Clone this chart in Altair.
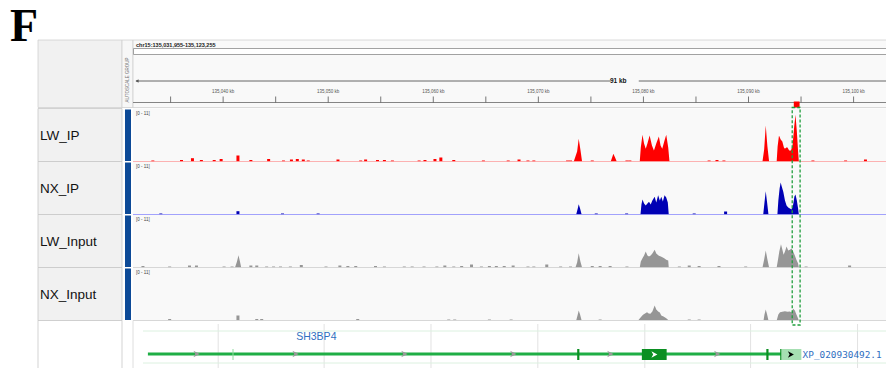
import altair as alt
import pandas as pd

# ---------------- data ----------------
PANEL_LETTER = "F"
REGION = [135031.955, 135123.255]
REGION_TEXT = "chr15:135,031,955-135,123,255"
SPAN_TEXT = "91 kb"
TICK_POS = [135035, 135040, 135045, 135050, 135055, 135060, 135065, 135070, 135075,
            135080, 135085, 135090, 135095, 135100]
LABEL_POS = [135040, 135050, 135060, 135070, 135080, 135090, 135100]
LABEL_TEXT = ["135,040 kb", "135,050 kb", "135,060 kb", "135,070 kb", "135,080 kb",
              "135,090 kb", "135,100 kb"]
AUTOSCALE_TEXT = "AUTOSCALE GROUP"
TRACK_NAMES = ["LW_IP", "NX_IP", "LW_Input", "NX_Input"]
DATA_RANGE = "[0 - 11]"

LW_IP_PEAK_POS = [135073.37, 135073.53, 135073.69, 135073.84, 135074.00, 135074.16,
                  135076.89, 135077.14, 135077.30, 135077.46,
                  135079.65, 135079.75, 135079.91, 135080.06, 135080.22, 135080.38, 135080.59, 135080.81,
                  135081.00, 135081.22, 135081.47, 135081.63, 135081.79, 135081.98, 135082.17, 135082.36, 135082.48,
                  135091.33, 135091.49, 135091.64, 135091.80, 135091.96,
                  135092.68, 135092.77, 135092.90, 135093.06, 135093.22, 135093.37, 135093.47, 135093.59,
                  135093.71, 135093.87, 135094.04, 135094.19, 135094.35, 135094.47, 135094.60, 135094.72, 135094.79]
LW_IP_PEAK_VAL = [0, 5, 10, 22.7, 12, 0,
                  0, 7.7, 4, 0,
                  0, 14, 26.7, 18, 12.7, 18, 26, 16, 11, 18, 25, 16, 12.7, 20, 26.7, 14, 0,
                  0, 12, 36, 15, 0,
                  0, 15, 26, 22, 20, 14, 12.7, 14, 14, 11, 11, 16, 35, 46.7, 30, 10, 0]
LW_IP_BUMP_POS = [135033.31, 135036.04, 135037.08, 135037.93, 135039.15, 135039.81, 135041.41, 135042.64,
                  135044.33, 135045.74, 135046.50, 135047.06, 135047.63, 135048.10, 135050.93, 135053.09,
                  135053.56, 135054.69, 135055.35, 135056.11, 135058.65, 135059.21, 135060.16, 135060.72,
                  135061.95, 135064.77, 135067.13, 135068.16, 135069.01, 135069.57, 135072.78, 135073.06,
                  135075.13, 135078.43, 135078.71, 135086.25, 135087.00, 135087.66, 135096.13, 135099.24,
                  135101.13]
LW_IP_BUMP_VAL = [1, 1.5, 3.3, 1.5, 1.5, 2.5, 6, 1.5, 2.5, 1,
                  2, 2.5, 2, 1, 2, 1, 2, 1.5, 1.5, 1,
                  1, 1.5, 2.5, 4, 1.5, 1, 1, 2, 1, 1,
                  1, 1, 1, 1, 1, 1, 1.5, 1, 1, 1, 2]

NX_IP_PEAK_POS = [135073.60, 135073.75, 135073.84, 135073.97, 135074.12,
                  135079.72, 135079.81, 135079.91, 135080.06, 135080.22, 135080.38, 135080.53, 135080.69,
                  135080.85, 135081.07, 135081.22, 135081.40, 135081.56, 135081.70, 135081.85, 135082.01,
                  135082.17, 135082.32, 135082.41,
                  135091.40, 135091.52, 135091.64, 135091.77, 135091.90,
                  135092.75, 135092.84, 135092.96, 135093.06, 135093.19, 135093.31, 135093.47, 135093.62,
                  135093.78, 135093.94, 135094.09, 135094.25, 135094.37, 135094.47, 135094.60, 135094.72, 135094.79]
NX_IP_PEAK_VAL = [0, 6, 10.3, 6, 0,
                  0, 10, 15, 11, 9, 11, 12.7, 10, 14, 17.7, 12, 19.3, 14, 17.7, 13, 19.3, 17, 12, 0,
                  0, 12, 23.3, 12, 0,
                  0, 14, 26, 32, 27, 22.7, 14, 9, 7, 6, 5, 10, 18, 20, 14, 6, 0]
NX_IP_BUMP_POS = [135034.07, 135041.41, 135045.65, 135049.04, 135075.51, 135078.40, 135084.83, 135087.82]
NX_IP_BUMP_VAL = [1, 3.3, 1, 1, 1, 1, 1, 3]

LW_IN_PEAK_POS = [135041.13, 135041.32, 135041.46, 135041.60, 135041.72,
                  135073.53, 135073.69, 135073.84, 135074.00, 135074.16,
                  135079.65, 135079.75, 135079.91, 135080.06, 135080.22, 135080.38, 135080.53, 135080.69,
                  135080.85, 135081.07, 135081.22, 135081.47, 135081.66, 135081.85, 135082.01, 135082.17,
                  135082.36, 135082.41,
                  135091.33, 135091.49, 135091.64, 135091.80, 135091.96,
                  135092.68, 135092.81, 135092.93, 135093.09, 135093.22, 135093.34, 135093.47, 135093.62,
                  135093.78, 135093.94, 135094.09, 135094.25, 135094.41, 135094.56, 135094.72, 135094.79]
LW_IN_PEAK_VAL = [0, 6, 12.3, 6, 0,
                  0, 5, 14.3, 6, 0,
                  0, 6, 9.3, 12, 16, 12, 11, 12, 14, 17.7, 14, 11.7, 11, 10, 9, 7.7, 7, 0,
                  0, 8, 17, 8, 0,
                  0, 8, 16, 23.3, 18, 12.7, 16, 21, 17, 17.7, 19, 16, 12, 7.7, 4, 0]
LW_IN_BUMP_POS = [135032.37, 135034.91, 135036.80, 135037.46, 135040.09, 135040.85, 135042.64, 135043.20,
                  135044.14, 135044.80, 135045.46, 135046.40, 135047.44, 135049.79, 135051.11, 135051.87,
                  135052.62, 135054.50, 135055.35, 135057.24, 135057.99, 135059.12, 135060.34, 135061.10,
                  135061.95, 135062.70, 135063.64, 135064.58, 135065.34, 135066.00, 135066.75, 135067.60,
                  135069.01, 135069.57, 135070.80, 135072.12, 135073.06, 135075.13, 135075.88, 135076.83,
                  135078.43, 135083.42, 135084.36, 135085.30, 135087.19, 135089.73, 135095.48, 135099.62]
LW_IN_BUMP_VAL = [1.5, 1, 2, 2, 1, 1, 2, 2,
                  1, 1, 1, 1, 2.5, 1, 2, 1.5,
                  1.5, 1.5, 1, 1, 1, 1, 1, 2,
                  1, 1.5, 3, 1, 1.5, 1.5, 1.5, 2,
                  1, 1, 3, 1, 1, 1.5, 1.5, 1.5,
                  1, 1, 2, 1.5, 1.5, 1, 1, 2]

NX_IN_PEAK_POS = [135073.60, 135073.75, 135073.84, 135073.97, 135074.12,
                  135079.49, 135079.65, 135079.81, 135079.96, 135080.15, 135080.34, 135080.50, 135080.66,
                  135080.85, 135081.07, 135081.22, 135081.40, 135081.56, 135081.70, 135081.91, 135082.17, 135082.41,
                  135091.43, 135091.52, 135091.64, 135091.77, 135091.90,
                  135092.68, 135092.84, 135093.00, 135093.22, 135093.47, 135093.71, 135093.94, 135094.09,
                  135094.25, 135094.41, 135094.56, 135094.72, 135094.79]
NX_IN_PEAK_VAL = [0, 6, 10, 6, 0,
                  0, 2, 4, 5.7, 7, 8.3, 7, 6.7, 9, 15, 11, 9, 8, 5, 4, 2.3, 0,
                  0, 6, 11, 6, 0,
                  0, 6, 8.3, 8.7, 9.3, 8.7, 9, 8, 11.7, 10, 6, 2, 0]
NX_IN_BUMP_POS = [135034.91, 135041.41, 135043.20, 135043.67, 135052.81, 135061.47, 135062.04, 135065.34,
                  135067.41, 135075.88, 135084.36, 135085.30]
NX_IN_BUMP_VAL = [1.5, 5, 1.5, 1.5, 1.5, 1, 1, 1, 1, 1, 1, 1]

ROI = [135094.16, 135094.91]

GENE_NAME = "SH3BP4"
GENE_NAME_POS = 135048.87
TRANSCRIPT = "XP_020930492.1"
GENE_LINE = [135032.84, 135093.12]
EXON_TICKS = [135073.80, 135091.80, 135093.12]
MINOR_TICK = [135040.94]
BIG_EXON = [135079.85, 135082.21]
UTR_BOX = [135093.12, 135095.03]
STRAND_ARROWS = [135037.46, 135046.88, 135057.24, 135067.60, 135076.84, 135087.01]
GENE_GRID = [135039.53, 135049.61, 135059.78, 135069.95, 135080.13, 135090.20, 135100.38]

# ---------------- layout ----------------
W, H = 878, 360
PX_PER_KB = 10.617
X0 = 125.6
XS = alt.Scale(domain=REGION, range=[X0, X0 + (REGION[1] - REGION[0]) * PX_PER_KB],
               nice=False, zero=False)
BASELINES = [153.5, 206.5, 259.5, 312.5]
ROW_H = 53
ONE = pd.DataFrame({"k": [0]})
GREEN = "#1fae45"
DKGREEN = "#0b8f22"
LINKBLUE = "#2f6fbf"


def xq(field):
    return alt.X(f"{field}:Q", scale=XS, axis=None)


def xd(v):
    return alt.X(datum=v, type="quantitative", scale=XS, axis=None)


def x2d(v):
    return alt.X2(datum=v)


def rect_px(x0, x1, y0, y1, **kw):
    return alt.Chart(ONE).mark_rect(**kw).encode(
        x=alt.value(x0), x2=alt.value(x1), y=alt.value(y0), y2=alt.value(y1))


def hrule(x0, x1, y, **kw):
    return alt.Chart(ONE).mark_rule(**kw).encode(x=alt.value(x0), x2=alt.value(x1), y=alt.value(y))


def text_px(t, x, y, **kw):
    return alt.Chart(ONE).mark_text(text=t, **kw).encode(x=alt.value(x), y=alt.value(y))


layers = []

# panel letter
layers.append(text_px(PANEL_LETTER, 2, 32.5, font="Liberation Serif", fontSize=46,
                      fontWeight="bold", align="left", baseline="alphabetic", color="black"))

# header backgrounds
layers.append(rect_px(30, 114, 32, 99.5, fill="#f1f1f1", stroke="#d0d0d0", strokeWidth=0.8))
layers.append(rect_px(114, 125, 32, 99.5, fill="#f7f7f7", stroke="#d0d0d0", strokeWidth=0.8))
layers.append(rect_px(125, 890, 32, 99.5, fill="#f9f9f9", stroke="#d0d0d0", strokeWidth=0.8))
layers.append(text_px(AUTOSCALE_TEXT, 119.5, 72, angle=270, fontSize=4.5, color="#777777",
                      font="Liberation Sans", align="center", baseline="middle"))
layers.append(text_px(REGION_TEXT, 128, 37, fontSize=5.5, fontWeight="bold", color="#222222",
                      font="Liberation Sans", align="left", baseline="middle"))
layers.append(rect_px(125.5, 890, 40.5, 46.5, fill="#ffffff", stroke="#8a8a8a", strokeWidth=0.8))

# span line with label
layers.append(hrule(128, 878, 73, color="#555555", strokeWidth=0.9))
layers.append(alt.Chart(ONE).mark_point(shape="triangle-left", filled=True, size=14, color="#333333")
              .encode(x=alt.value(129), y=alt.value(73)))
layers.append(alt.Chart(ONE).mark_rect(fill="#f9f9f9").encode(
    x=xd(REGION[0] + 44.9), x2=x2d(REGION[0] + 47.6), y=alt.value(69), y2=alt.value(77)))
layers.append(alt.Chart(ONE).mark_text(text=SPAN_TEXT, fontSize=6.5, fontWeight="bold",
                                        font="Liberation Sans", color="#111111")
              .encode(x=xd((REGION[0] + REGION[1]) / 2), y=alt.value(73)))

# ruler
layers.append(hrule(125, 878, 94.5, color="#777777", strokeWidth=0.9))
layers.append(alt.Chart(pd.DataFrame({"p": TICK_POS})).mark_rule(color="#555555", strokeWidth=0.8, clip=True)
              .encode(x=xq("p"), y=alt.value(88.5), y2=alt.value(94.5)))
layers.append(alt.Chart(pd.DataFrame({"p": LABEL_POS, "t": LABEL_TEXT}))
              .mark_text(fontSize=4.5, color="#555555", font="Liberation Sans")
              .encode(x=xq("p"), y=alt.value(84), text="t:N"))

# track rows
TRACK_DATA = [
    (LW_IP_PEAK_POS, LW_IP_PEAK_VAL, LW_IP_BUMP_POS, LW_IP_BUMP_VAL, "#ff0000", "#ff6a6a"),
    (NX_IP_PEAK_POS, NX_IP_PEAK_VAL, NX_IP_BUMP_POS, NX_IP_BUMP_VAL, "#0000b4", "#4a4aff"),
    (LW_IN_PEAK_POS, LW_IN_PEAK_VAL, LW_IN_BUMP_POS, LW_IN_BUMP_VAL, "#969696", "#b4b4b4"),
    (NX_IN_PEAK_POS, NX_IN_PEAK_VAL, NX_IN_BUMP_POS, NX_IN_BUMP_VAL, "#969696", "#b4b4b4"),
]
for i, (name, (pp, pv, bp, bv, fill, line)) in enumerate(zip(TRACK_NAMES, TRACK_DATA)):
    b = BASELINES[i]
    top = b - ROW_H
    layers.append(rect_px(30, 114, top, b, fill="#f1f1f1", stroke="#c8c8c8", strokeWidth=0.8))
    layers.append(rect_px(125, 890, top, b, fill="#f9f9f9"))
    layers.append(rect_px(117, 123, top + 1, b - 0.5, fill="#0d4a97"))
    layers.append(text_px(name, 32, (top + b) / 2 + 1, fontSize=13.5, font="Liberation Sans",
                          color="#111111", align="left", baseline="middle"))
    layers.append(text_px(DATA_RANGE, 128, top + 5, fontSize=4.5, font="Liberation Sans",
                          color="#444444", align="left", baseline="middle"))
    ys = alt.Scale(domain=[0, ROW_H], range=[b, b - ROW_H], nice=False)
    layers.append(hrule(125, 878, b, color=line, strokeWidth=1))
    layers.append(alt.Chart(pd.DataFrame({"pos": pp, "v": pv}))
                  .mark_area(color=fill, interpolate="linear", clip=True)
                  .encode(x=xq("pos"), y=alt.Y("v:Q", scale=ys, axis=None)))
    layers.append(alt.Chart(pd.DataFrame({"pos": bp, "v": bv}))
                  .mark_bar(color=fill, size=3, clip=True)
                  .encode(x=xq("pos"), y=alt.Y("v:Q", scale=ys, axis=None)))

# gene row
layers.append(rect_px(30, 114, 312.5, 364, fill="#ffffff", stroke="#c8c8c8", strokeWidth=0.8))
layers.append(rect_px(125, 890, 312.5, 364, fill="#ffffff", stroke="#d6d6d6", strokeWidth=0.8))
layers.append(alt.Chart(pd.DataFrame({"p": GENE_GRID})).mark_rule(color="#e2e2e2", strokeWidth=1, clip=True)
              .encode(x=xq("p"), y=alt.value(316), y2=alt.value(364)))
layers.append(hrule(135, 878, 323, color="#dcf1e0", strokeWidth=1))
layers.append(hrule(135, 878, 355, color="#dcf1e0", strokeWidth=1))
layers.append(alt.Chart(ONE).mark_rule(color=GREEN, strokeWidth=3)
              .encode(x=xd(GENE_LINE[0]), x2=x2d(GENE_LINE[1]), y=alt.value(346)))
layers.append(alt.Chart(pd.DataFrame({"p": MINOR_TICK})).mark_rule(color="#8fdc9f", strokeWidth=1)
              .encode(x=xq("p"), y=alt.value(341), y2=alt.value(352)))
layers.append(alt.Chart(pd.DataFrame({"p": EXON_TICKS})).mark_rule(color=DKGREEN, strokeWidth=2.2)
              .encode(x=xq("p"), y=alt.value(341), y2=alt.value(352)))
layers.append(alt.Chart(ONE).mark_rect(fill=DKGREEN)
              .encode(x=xd(BIG_EXON[0]), x2=x2d(BIG_EXON[1]), y=alt.value(341), y2=alt.value(352)))
layers.append(alt.Chart(ONE).mark_rect(fill="#a6dfb2")
              .encode(x=xd(UTR_BOX[0]), x2=x2d(UTR_BOX[1]), y=alt.value(341), y2=alt.value(352)))
CHEVRON = "M-0.9,-1 L1,0 L-0.9,1 L-0.35,0 Z"
layers.append(alt.Chart(pd.DataFrame({"p": STRAND_ARROWS}))
              .mark_point(shape=CHEVRON, filled=True, size=45, color="#999999", opacity=1)
              .encode(x=xq("p"), y=alt.value(346)))
layers.append(alt.Chart(ONE).mark_point(shape=CHEVRON, filled=True, size=40, color="#ffffff", opacity=1)
              .encode(x=xd((BIG_EXON[0] + BIG_EXON[1]) / 2), y=alt.value(346.5)))
layers.append(alt.Chart(ONE).mark_point(shape=CHEVRON, filled=True, size=40, color="#000000", opacity=1)
              .encode(x=xd(UTR_BOX[0] + 0.9), y=alt.value(346.5)))
layers.append(alt.Chart(ONE).mark_text(text=GENE_NAME, fontSize=10.5, font="Liberation Sans", color=LINKBLUE)
              .encode(x=xd(GENE_NAME_POS), y=alt.value(329)))
layers.append(alt.Chart(ONE).mark_text(text=TRANSCRIPT, fontSize=9.4, font="DejaVu Sans Mono",
                                        color=LINKBLUE, align="left", baseline="middle")
              .encode(x=xd(UTR_BOX[1] + 0.12), y=alt.value(346.5)))

# region of interest
layers.append(alt.Chart(ONE).mark_rect(fill="#ff0000")
              .encode(x=xd(ROI[0] + 0.15), x2=x2d(ROI[1] - 0.05), y=alt.value(93.5), y2=alt.value(99.5)))
layers.append(alt.Chart(ONE).mark_rect(fillOpacity=0, stroke="#1f9e3c", strokeWidth=1.3, strokeDash=[3, 2])
              .encode(x=xd(ROI[0]), x2=x2d(ROI[1]), y=alt.value(99.5), y2=alt.value(317)))

chart = (alt.layer(*layers)
         .resolve_scale(y="independent")
         .properties(width=W, height=H, padding=0, autosize=alt.AutoSizeParams(type="none"))
         .configure_view(stroke=None))

chart.save("out.html", embed_options={"renderer": "svg", "actions": False})
